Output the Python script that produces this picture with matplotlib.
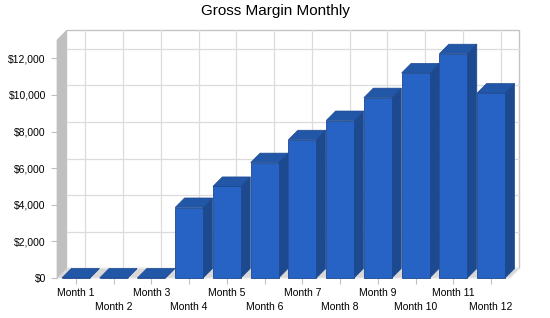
import matplotlib
matplotlib.use('Agg')
import matplotlib.pyplot as plt
from matplotlib.patches import Polygon
import numpy as np

plt.rcParams['font.family'] = ['Liberation Sans', 'DejaVu Sans']

# Data
months = ['Month 1', 'Month 2', 'Month 3', 'Month 4', 'Month 5', 'Month 6',
          'Month 7', 'Month 8', 'Month 9', 'Month 10', 'Month 11', 'Month 12']
gross_margin = [0, 0, 0, 3850, 5000, 6300, 7550, 8600, 9850, 11200, 12250, 10100]
y_ticks = [0, 2000, 4000, 6000, 8000, 10000, 12000]
y_max = 13000

# 3D look: depth offset in data units
dx, dy = 0.25, 520
width = 0.74
front_col = '#2663C4'
side_col = '#1D4A8F'
top_col = '#2257A8'
edge_col = '#1C4890'
grid_col = '#DCDCDC'

fig = plt.figure(figsize=(5.5, 3.18), dpi=100)
ax = fig.add_axes([57/550, 40/318, 453/550, 238/318])
n = len(months)
x = np.arange(n)
ax.set_xlim(-0.5, n - 0.5)
ax.set_ylim(0, y_max)
for s in ax.spines.values():
    s.set_visible(False)

# back wall
ax.add_patch(plt.Rectangle((-0.5 + dx, dy), n, y_max, facecolor='white',
                           edgecolor='#C4C4C4', lw=1, clip_on=False, zorder=0))
for v in y_ticks[1:]:
    ax.plot([-0.5 + dx, n - 0.5 + dx], [v + dy, v + dy], color=grid_col, lw=0.9,
            clip_on=False, zorder=0.5)
for i in x:
    ax.plot([i + dx, i + dx], [dy, y_max + dy], color=grid_col, lw=0.9,
            clip_on=False, zorder=0.5)

# floor and left wall
ax.add_patch(Polygon([(-0.5, 0), (n - 0.5, 0), (n - 0.5 + dx, dy), (-0.5 + dx, dy)],
                     closed=True, facecolor='#D8D8D8', edgecolor='#E8E8E8', lw=0.8,
                     clip_on=False, zorder=1))
ax.add_patch(Polygon([(-0.5, 0), (-0.5 + dx, dy), (-0.5 + dx, y_max + dy), (-0.5, y_max)],
                     closed=True, facecolor='#C0C0C0', edgecolor='#C0C0C0', lw=0.5,
                     clip_on=False, zorder=1))

# bars
for i, v in zip(x, gross_margin):
    l, r = i - width / 2, i + width / 2
    z = 2 + i * 0.01
    ax.add_patch(Polygon([(r, 0), (r + dx, dy), (r + dx, v + dy), (r, v)], closed=True,
                         facecolor=side_col, edgecolor=edge_col, lw=0.5,
                         clip_on=False, zorder=z))
    ax.add_patch(Polygon([(l, v), (r, v), (r + dx, v + dy), (l + dx, v + dy)], closed=True,
                         facecolor=top_col, edgecolor=edge_col, lw=0.5,
                         clip_on=False, zorder=z))
ax.bar(x, gross_margin, width, color=front_col, edgecolor=edge_col, lw=0.6,
       zorder=3, clip_on=False)

# axes ticks: odd months on the first row (major), even months on second row (minor)
ax.set_yticks(y_ticks)
ax.set_yticklabels(['${:,}'.format(v) for v in y_ticks])
ax.set_xticks(x[0::2])
ax.set_xticklabels(months[0::2])
ax.set_xticks(x[1::2], minor=True)
ax.set_xticklabels(months[1::2], minor=True)
ax.tick_params(axis='y', length=4, width=0.8, color='#C0C0C0', pad=4,
               labelsize=7.5)
ax.tick_params(axis='x', which='major', length=4, width=0.8, color='#C0C0C0', pad=3,
               labelsize=7.5)
ax.tick_params(axis='x', which='minor', length=4, width=0.8, color='#C0C0C0', pad=13,
               labelsize=7.5)

fig.suptitle('Gross Margin Monthly', fontsize=11, y=1 - 11/318, va='center')

fig.savefig('out.png', dpi=100)
